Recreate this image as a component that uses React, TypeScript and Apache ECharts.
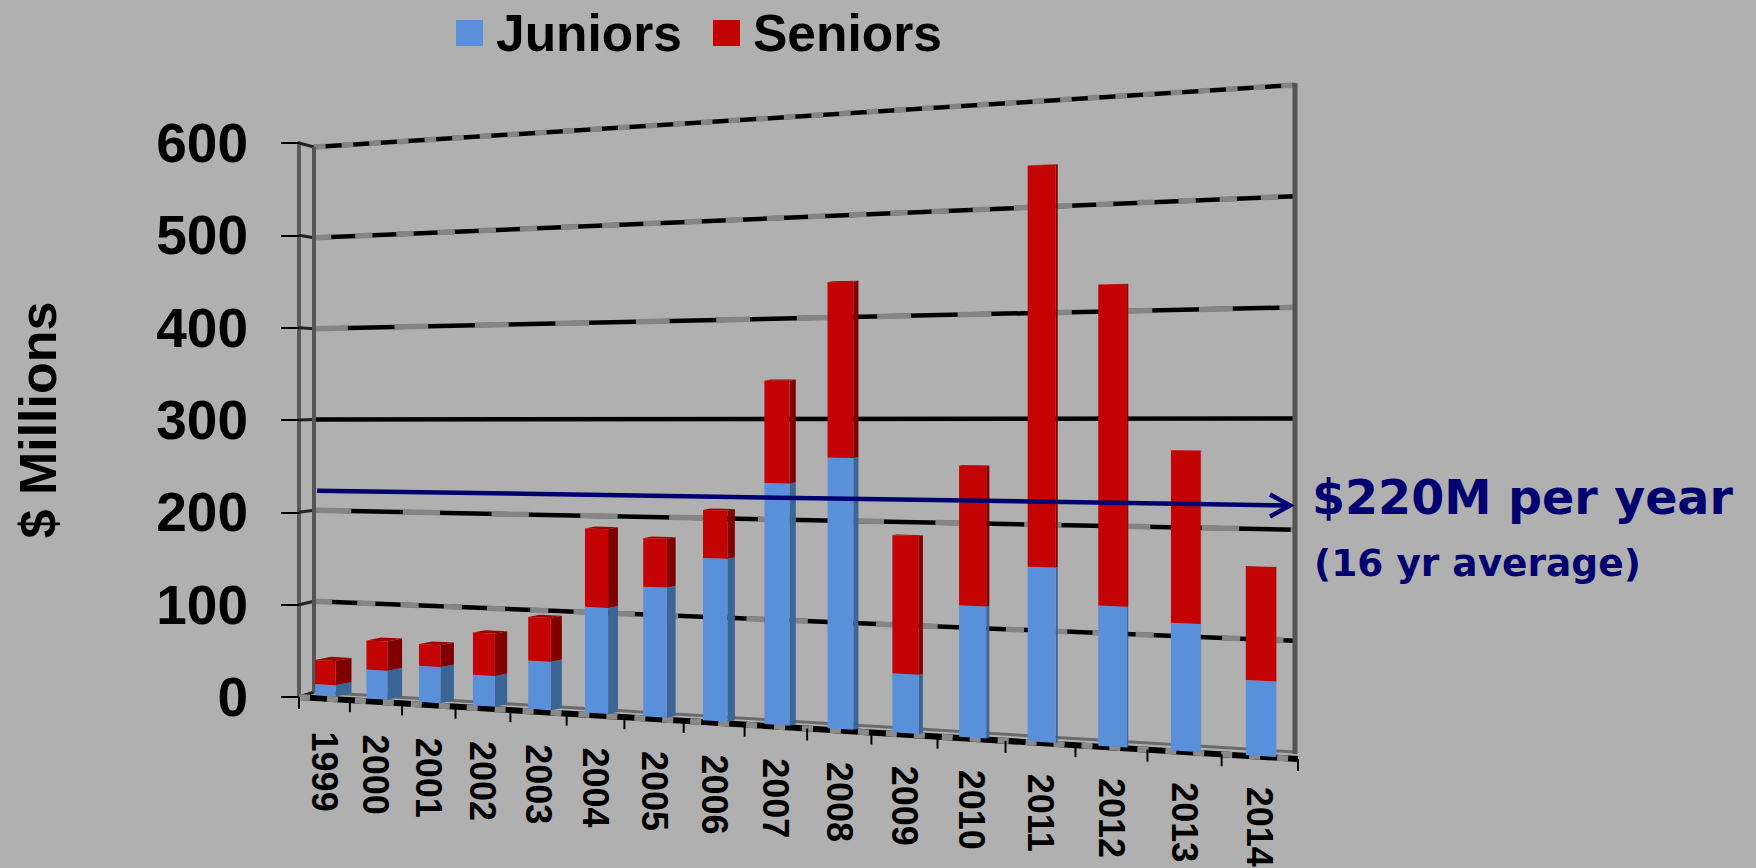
import React, { useEffect, useRef } from "react";
import * as echarts from "echarts";

// ---- data ----
const years = ["1999","2000","2001","2002","2003","2004","2005","2006","2007","2008","2009","2010","2011","2012","2013","2014"];
const juniors = [12,31,38,32,50,108,131,162,238,264,57,125,164,130,117,68];
const seniors = [26,31,23,44,45,80,49,48,101,171,133,133,377,298,158,103];
const yTicks = [0,100,200,300,400,500,600];
const avgLabel = "$220M per year";
const avgNote = "(16 yr average)";

// ---- layout ----
const W = 1756, H = 868;
const G = { left: 299, top: 143, width: 999, height: 554 };
const FONT = "'Liberation Sans', Arial, sans-serif";
const NAVY = "#000070";
const average = (juniors.reduce((a, b) => a + b, 0) + seniors.reduce((a, b) => a + b, 0)) / years.length;

// perspective of the original 3-D chart applied on top of the flat grid coordinates
const warpX = (fx: number) => {
  const u = (fx - G.left) / G.width;
  return G.left + G.width * (u / (1 + 0.242 * (1 - u)));
};
const lerp = (x: number, x0: number, y0: number, x1: number, y1: number) => y0 + ((x - x0) * (y1 - y0)) / (x1 - x0);
const tOf = (fy: number) => (G.top + G.height - fy) / G.height;
const barY = (x: number, fy: number) =>
  lerp(x, 324, 695.7, 1259, 756) - tOf(fy) * lerp(x, 299, 554, 1295, 669);
const wallY = (x: number, fy: number) =>
  lerp(x, 314, 692, 1295, 752) - tOf(fy) * lerp(x, 314, 545, 1295, 667);
const frontEdge = (x: number) => lerp(x, 299, 697, 1298, 759);
const depthX = (x: number) => 16 * Math.pow(Math.max(0, 1274 - x) / 940, 1.4);
const WL = 314, WR = 1295;

const noInteract = { silent: true, tooltip: { show: false } };

const makeBar = (front: string, side: string, topc: string) => (_: any, api: any) => {
  const i = api.value(0);
  const band = api.size([1, 0])[0];
  const [fx, fy0] = api.coord([i, api.value(1)]);
  const [, fy1] = api.coord([i, api.value(2)]);
  const xL = warpX(fx - band * 0.18);
  const xR = warpX(fx + band * 0.22);
  const dx = depthX(xR);
  const dy = dx * 0.2;
  const p = (x: number, y: number) => [x, y];
  const a = p(xL, barY(xL, fy0)), b = p(xR, barY(xR, fy0)), c = p(xR, barY(xR, fy1)), d = p(xL, barY(xL, fy1));
  return {
    type: "group",
    children: [
      { type: "polygon", shape: { points: [b, c, [c[0] + dx, c[1] - dy], [b[0] + dx, b[1] - dy]] }, style: { fill: side } },
      { type: "polygon", shape: { points: [d, c, [c[0] + dx, c[1] - dy], [d[0] + dx, d[1] - dy]] }, style: { fill: topc } },
      { type: "polygon", shape: { points: [a, b, c, d] }, style: { fill: front } },
    ],
  };
};

const gridItem = (_: any, api: any) => {
  const v = api.value(1);
  const [, fy] = api.coord([0, v]);
  const y0 = wallY(WL, fy), y1 = wallY(WR, fy);
  const slope = Math.abs(y1 - y0) / (WR - WL);
  const children: any[] = [
    { type: "line", shape: { x1: G.left, y1: G.top + G.height * (1 - v / 600), x2: WL, y2: y0 }, style: { stroke: "#222", lineWidth: 3 } },
  ];
  if (v > 0) {
    children.push({ type: "line", shape: { x1: WL, y1: y0, x2: WR, y2: y1 }, style: { stroke: "#000", lineWidth: 4.5 } });
    if (slope > 0.005) {
      const period = 1.75 / slope;
      children.push({
        type: "line",
        shape: { x1: WL, y1: y0, x2: WR, y2: y1 },
        style: { stroke: "#858585", lineWidth: 5.5, lineDash: [period * 0.42, period * 0.58] },
      });
    }
  } else {
    children.push({ type: "line", shape: { x1: WL, y1: y0, x2: WR, y2: y1 }, style: { stroke: "#6a6a6a", lineWidth: 3 } });
  }
  return { type: "group", children };
};

const frameItem = (_: any, api: any) => {
  const [, top] = api.coord([0, 600]);
  const [, bot] = api.coord([0, 0]);
  const stroke = "#555";
  return {
    type: "group",
    children: [
      { type: "line", shape: { x1: WL, y1: wallY(WL, top), x2: WL, y2: wallY(WL, bot) }, style: { stroke, lineWidth: 4 } },
      { type: "line", shape: { x1: WR, y1: wallY(WR, top) - 2, x2: WR, y2: wallY(WR, bot) + 2 }, style: { stroke, lineWidth: 5 } },
    ],
  };
};

const floorItem = (_: any, api: any) => {
  const x0 = G.left, x1 = G.left + G.width;
  const shape = { x1: x0, y1: frontEdge(x0), x2: x1, y2: frontEdge(x1) };
  return {
    type: "group",
    children: [
      { type: "line", shape, style: { stroke: "#000", lineWidth: 6 } },
      { type: "line", shape, style: { stroke: "#8a8a8a", lineWidth: 6, lineDash: [11, 17] } },
    ],
  };
};

const xLabelItem = (_: any, api: any) => {
  const i = api.value(0);
  const band = api.size([1, 0])[0];
  const [fx] = api.coord([i, 0]);
  const l = warpX(fx - band / 2), r = warpX(fx + band / 2), m = (l + r) / 2;
  const tick = (x: number) => ({
    type: "line",
    shape: { x1: x, y1: frontEdge(x), x2: x, y2: frontEdge(x) + 12 },
    style: { stroke: "#000", lineWidth: 2 },
  });
  const children: any[] = [
    tick(l),
    {
      type: "text",
      x: m,
      y: frontEdge(m) + lerp(m, 322, 33, 1259, 30),
      rotation: -Math.PI / 2,
      style: { text: years[i], fontFamily: FONT, fontWeight: "bold", fontSize: 36, fill: "#000", align: "left", verticalAlign: "middle" },
    },
  ];
  if (i === years.length - 1) children.push(tick(r));
  return { type: "group", children };
};

const avgItem = (_: any, api: any) => {
  const [, fy] = api.coord([0, api.value(1)]);
  const x0 = 317, x1 = 1290;
  const y0 = wallY(x0, fy), y1 = wallY(x1, fy);
  const style = { stroke: NAVY, lineWidth: 4.5, fill: "none" };
  return {
    type: "group",
    children: [
      { type: "line", shape: { x1: x0, y1: y0, x2: x1, y2: y1 }, style },
      { type: "polyline", shape: { points: [[x1 - 20, y1 - 11], [x1, y1], [x1 - 20, y1 + 11]] }, style },
    ],
  };
};

export default function App() {
  const ref = useRef<HTMLDivElement>(null);
  useEffect(() => {
    document.body.style.margin = "0";
    document.body.style.background = "#b0b0b0";
    const chart = echarts.init(ref.current!, undefined, { renderer: "svg" });
    const idx = years.map((_, i) => i);
    chart.setOption({
      animation: false,
      backgroundColor: "#b0b0b0",
      grid: { left: G.left, top: G.top, width: G.width, height: G.height, containLabel: false, outerBoundsMode: "none" },
      legend: {
        data: ["Juniors", "Seniors"],
        left: 451,
        top: 2,
        icon: "rect",
        itemWidth: 27,
        itemHeight: 26,
        itemGap: 31,
        selectedMode: false,
        textStyle: { fontFamily: FONT, fontWeight: "bold", fontSize: 51.5, color: "#000", padding: [0, 0, 0, 8] },
      },
      xAxis: {
        type: "category",
        data: years,
        axisLine: { show: false },
        axisTick: { show: false },
        axisLabel: { show: false },
      },
      yAxis: {
        type: "value",
        min: 0,
        max: 600,
        interval: 100,
        name: "$ Millions",
        nameLocation: "middle",
        nameRotate: 90,
        nameGap: 235,
        nameTextStyle: { fontFamily: FONT, fontWeight: "bold", fontSize: 52, color: "#000" },
        axisLine: { show: true, lineStyle: { color: "#5a5a5a", width: 4 } },
        axisTick: { show: true, length: 18, lineStyle: { color: "#000", width: 2 } },
        axisLabel: { fontFamily: FONT, fontWeight: "bold", fontSize: 55, color: "#000", margin: 51 },
        splitLine: { show: false },
      },
      graphic: [
        { type: "text", x: 1312, y: 497, style: { text: avgLabel, fontFamily: "'DejaVu Sans'", fontWeight: "bold", fontSize: 47.5, fill: NAVY, align: "left", verticalAlign: "middle" } },
        { type: "text", x: 1314, y: 563, style: { text: avgNote, fontFamily: "'DejaVu Sans'", fontWeight: "bold", fontSize: 37.5, fill: NAVY, align: "left", verticalAlign: "middle" } },
      ],
      series: [
        { type: "custom", name: "walls", ...noInteract, z: 1, clip: false, renderItem: gridItem, encode: { x: 0, y: 1 }, data: yTicks.map((v) => [0, v]) },
        { type: "custom", name: "frame", ...noInteract, z: 1, clip: false, renderItem: frameItem, encode: { x: 0, y: 1 }, data: [[0, 0]] },
        { type: "custom", name: "floor", ...noInteract, z: 2, clip: false, renderItem: floorItem, encode: { x: 0, y: 1 }, data: [[0, 0]] },
        { type: "custom", name: "xLabels", ...noInteract, z: 2, clip: false, renderItem: xLabelItem, encode: { x: 0, y: 1 }, data: idx.map((i) => [i, 0]) },
        {
          type: "custom", name: "Juniors", ...noInteract, z: 3, clip: false,
          itemStyle: { color: "#5a90da" },
          renderItem: makeBar("#5a90da", "#3b6595", "#4a7cc0"),
          encode: { x: 0, y: [1, 2] },
          data: idx.map((i) => [i, 0, juniors[i]]),
        },
        {
          type: "custom", name: "Seniors", ...noInteract, z: 3, clip: false,
          itemStyle: { color: "#c40404" },
          renderItem: makeBar("#c40404", "#800000", "#a00000"),
          encode: { x: 0, y: [1, 2] },
          data: idx.map((i) => [i, juniors[i], juniors[i] + seniors[i]]),
        },
        { type: "custom", name: "average", ...noInteract, z: 4, clip: false, renderItem: avgItem, encode: { x: 0, y: 1 }, data: [[0, average]] },
      ],
    });
    return () => chart.dispose();
  }, []);
  return <div ref={ref} style={{ position: "fixed", left: 0, top: 0, width: W, height: H }} />;
}
